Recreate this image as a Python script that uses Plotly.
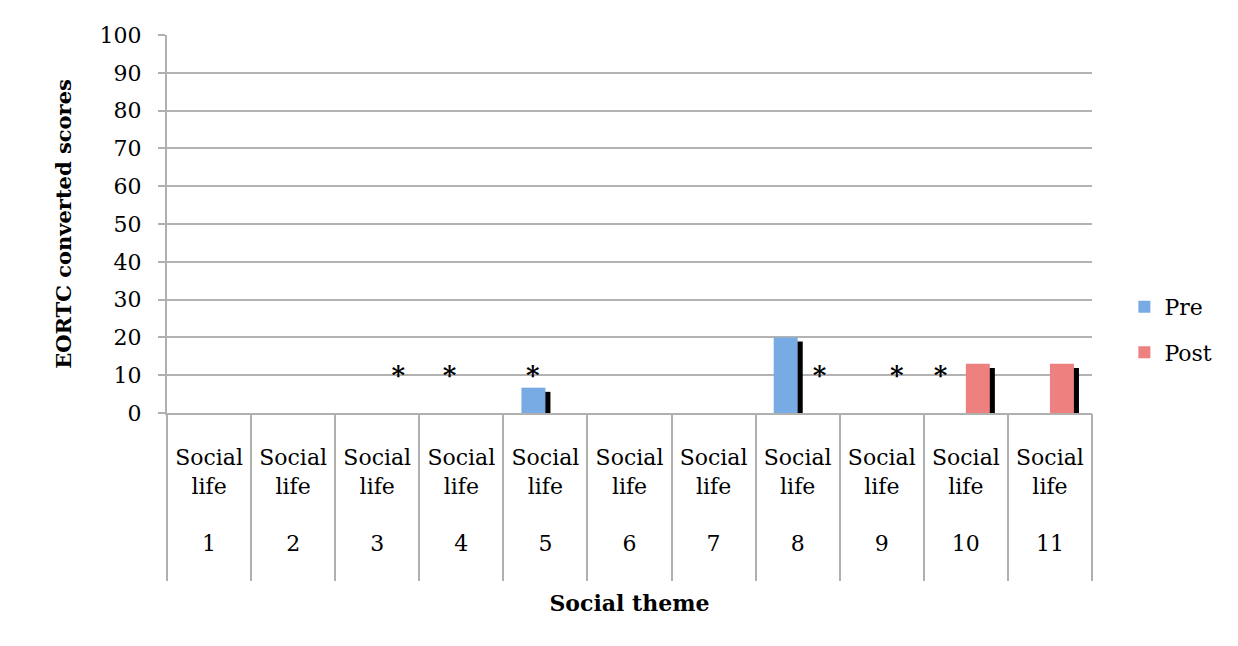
import plotly.graph_objects as go

# Social theme items 1..11
item_numbers = list(range(1, 12))
tick_labels = [f"Social<br>life<br><br>{n}" for n in item_numbers]

# EORTC converted scores per item
pre_scores = [0, 0, 0, 0, 6.7, 0, 0, 20, 0, 0, 0]
post_scores = [0, 0, 0, 0, 0, 0, 0, 0, 0, 13, 13]

# items flagged with an asterisk, and the level the asterisk sits at
star_items = [3, 4, 5, 8, 9, 10]
star_level = 9.3
star_nudge = [0.25, -0.14, -0.15, 0.26, 0.18, -0.30]  # horizontal placement within item

y_ticks = list(range(0, 101, 10))

FONT = "DejaVu Serif"
BLUE = "#78abe4"
RED = "#ef8080"
BAR_W = 0.285
SHADOW_SHIFT = 0.06
SHADOW_DROP = -1.1

fig = go.Figure()

# drop shadows behind the bars
fig.add_trace(go.Bar(x=item_numbers, y=pre_scores, base=SHADOW_DROP, width=BAR_W,
                     offset=-BAR_W + SHADOW_SHIFT, marker=dict(color="black", line_width=0),
                     showlegend=False, hoverinfo="skip"))
fig.add_trace(go.Bar(x=item_numbers, y=post_scores, base=SHADOW_DROP, width=BAR_W,
                     offset=SHADOW_SHIFT, marker=dict(color="black", line_width=0),
                     showlegend=False, hoverinfo="skip"))

fig.add_trace(go.Bar(x=item_numbers, y=pre_scores, width=BAR_W, offset=-BAR_W,
                     name="Pre", legendgroup="pre",
                     marker=dict(color=BLUE, line_width=0)))
fig.add_trace(go.Bar(x=item_numbers, y=post_scores, width=BAR_W, offset=0,
                     name="Post", legendgroup="post",
                     marker=dict(color=RED, line_width=0)))

fig.add_trace(go.Scatter(
    x=[i + d for i, d in zip(star_items, star_nudge)],
    y=[star_level] * len(star_items),
    mode="text", text=["<b>*</b>"] * len(star_items),
    textfont=dict(family=FONT, size=26, color="black"),
    textposition="middle center",
    showlegend=False, hoverinfo="skip", cliponaxis=False,
))

fig.update_layout(
    width=1238, height=646,
    margin=dict(l=167, r=146, t=35, b=233),
    plot_bgcolor="white", paper_bgcolor="white",
    barmode="overlay",
    font=dict(family=FONT, size=22, color="black"),
    legend=dict(x=1.035, y=0.22, xanchor="left", yanchor="middle",
                font=dict(size=22), tracegroupgap=14, bgcolor="rgba(0,0,0,0)"),
    xaxis=dict(
        range=[0.5, 11.5], tickmode="array", tickvals=item_numbers, ticktext=tick_labels,
        ticks="", showgrid=False, showline=True, linecolor="#b0b0b0", linewidth=2,
        ticklabelstandoff=24, tickfont=dict(size=22), zeroline=False,
        title=dict(text="<b>Social theme</b>", font=dict(size=22), standoff=40),
    ),
    # boundary lines between the items, running down through the label area
    xaxis2=dict(
        overlaying="x", matches="x", range=[0.5, 11.5], side="bottom",
        tickmode="array", tickvals=[n - 0.5 for n in item_numbers] + [item_numbers[-1] + 0.5],
        ticks="outside", ticklen=167, tickwidth=2, tickcolor="#b0b0b0",
        showticklabels=False, showgrid=False, showline=False, zeroline=False,
    ),
    yaxis=dict(
        range=[0, 100], tickmode="array", tickvals=y_ticks,
        showgrid=True, gridcolor="#b3b3b3", gridwidth=1.5,
        showline=True, linecolor="#b0b0b0", linewidth=2,
        ticks="outside", ticklen=7, tickwidth=2, tickcolor="#b0b0b0",
        ticklabelstandoff=12, tickfont=dict(size=22), zeroline=False,
        title=dict(text="<b>EORTC converted scores</b>", font=dict(size=21), standoff=22),
    ),
)

# anchor the overlay axis so its ticks draw from the bottom of the plot
fig.add_trace(go.Scatter(x=[1], y=[None], xaxis="x2", showlegend=False, hoverinfo="skip"))

fig.write_html("out.html")
